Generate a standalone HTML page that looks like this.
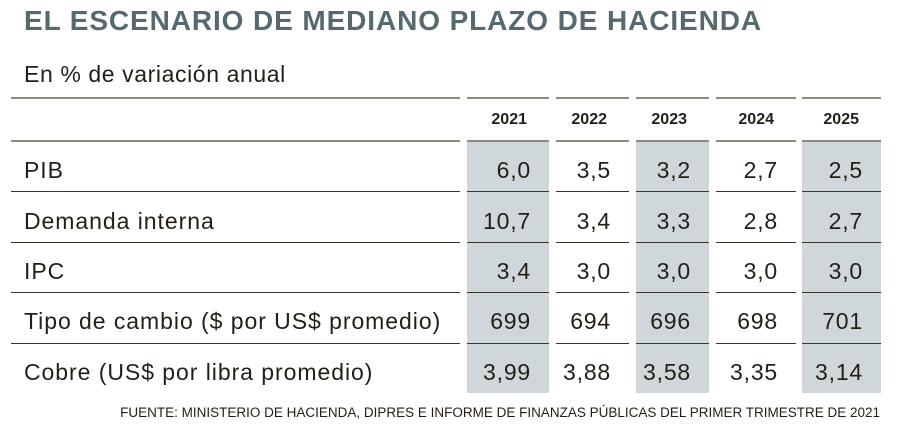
<!DOCTYPE html>
<html><head><meta charset="utf-8"><style>
body{margin:0;width:900px;height:428px;background:#fff;position:relative;overflow:hidden;font-family:"Liberation Sans",sans-serif;color:#231f16}
.a{position:absolute}
.title{left:24px;top:5px;font-size:28px;font-weight:bold;color:#56696f;letter-spacing:0.9px;white-space:nowrap}
.sub{left:24px;top:61px;font-size:23px;letter-spacing:0.6px;white-space:nowrap}
.hl{position:absolute;height:2px;background:#8f8a80}
.rl{position:absolute;height:1px;background:#3a362e}
.shade{position:absolute;background:#d0d7da}
.lab{position:absolute;left:24px;font-size:23px;letter-spacing:0.95px;white-space:nowrap}
.cell{position:absolute;font-size:23px;letter-spacing:0.8px;text-align:right;white-space:nowrap}
.yr{position:absolute;font-size:16px;font-weight:bold;text-align:right}
.foot{right:20px;top:405px;font-size:13.5px;white-space:nowrap}
</style></head><body>
<div class="a title">EL ESCENARIO DE MEDIANO PLAZO DE HACIENDA</div>
<div class="a sub">En % de variación anual</div>
<div id="tbl"></div>
<div class="a foot">FUENTE: MINISTERIO DE HACIENDA, DIPRES E INFORME DE FINANZAS PÚBLICAS DEL PRIMER TRIMESTRE DE 2021</div>
<script>
const years=["2021","2022","2023","2024","2025"];
const rowLabels=["PIB","Demanda interna","IPC","Tipo de cambio ($ por US$ promedio)","Cobre (US$ por libra promedio)"];
const pib=["6,0","3,5","3,2","2,7","2,5"];
const demanda=["10,7","3,4","3,3","2,8","2,7"];
const ipc=["3,4","3,0","3,0","3,0","3,0"];
const tipoCambio=["699","694","696","698","701"];
const cobre=["3,99","3,88","3,58","3,35","3,14"];
const rows=[pib,demanda,ipc,tipoCambio,cobre];
const colL=[467,556,636,716,802], colR=[549,629,709,796,881];
const segL=[11].concat(colL), segR=[460].concat(colR);
const top0=97, hdrBot=141, rowH=50.4;
const t=document.getElementById('tbl');
function add(cls,css){const d=document.createElement('div');d.className=cls;Object.assign(d.style,css);t.appendChild(d);return d;}
[0,2,4].forEach(c=>{const d=add('shade',{left:colL[c]+'px',top:hdrBot+'px',width:(colR[c]-colL[c])+'px',height:(rowH*rows.length)+'px'});

});
for(let s=0;s<segL.length;s++){
 [top0,hdrBot-1].forEach(y=>{const d=add('hl',{left:segL[s]+'px',top:y+'px',width:(segR[s]-segL[s])+'px'});
 
 });
}
for(let r=1;r<rows.length;r++){
 const y=Math.round(hdrBot+r*rowH);
 for(let s=0;s<segL.length;s++){const d=add('rl',{left:segL[s]+'px',top:y+'px',width:(segR[s]-segL[s])+'px'});
 
 }
}
years.forEach((y,c)=>{const d=add('yr',{left:colL[c]+'px',width:(colR[c]-colL[c]-22)+'px',top:'111px'});d.textContent=y;

});
rows.forEach((vals,r)=>{
 const yc=hdrBot+r*rowH+rowH/2-9;
 const l=add('lab',{top:yc+'px'});l.textContent=rowLabels[r];
 
 
 vals.forEach((v,c)=>{const d=add('cell',{left:colL[c]+'px',width:(colR[c]-colL[c]-18)+'px',top:yc+'px'});d.textContent=v;
 
 });
});
</script>
</body></html>
